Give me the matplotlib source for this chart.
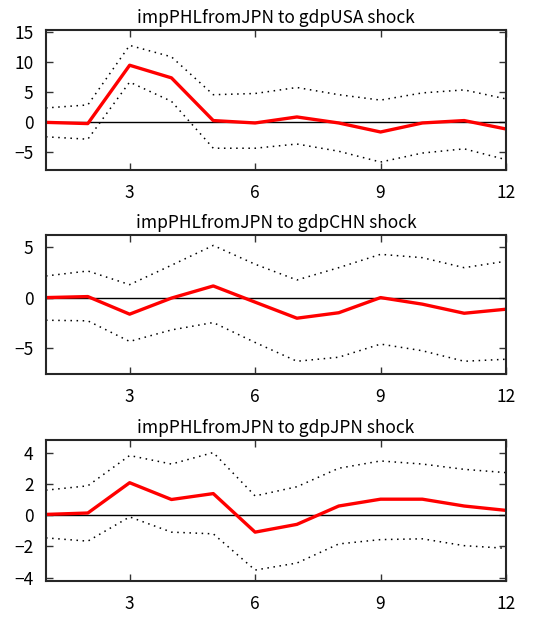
import numpy as np
import matplotlib.pyplot as plt

plt.rcParams['font.family'] = ['Noto Sans CJK JP', 'DejaVu Sans']

periods = np.arange(1, 13)

titles = ["impPHLfromJPN to gdpUSA shock",
          "impPHLfromJPN to gdpCHN shock",
          "impPHLfromJPN to gdpJPN shock"]

# impulse responses (red) with upper / lower bands (dotted)
irf_usa = [0.0, -0.2, 9.5, 7.4, 0.3, -0.1, 0.9, -0.1, -1.6, -0.1, 0.3, -1.1]
up_usa = [2.4, 2.9, 12.8, 10.9, 4.6, 4.8, 5.8, 4.6, 3.7, 4.9, 5.4, 3.9]
lo_usa = [-2.4, -2.8, 6.7, 3.5, -4.3, -4.3, -3.6, -4.8, -6.6, -5.1, -4.4, -6.2]

irf_chn = [0.0, 0.1, -1.64, -0.05, 1.15, -0.45, -2.04, -1.5, 0.0, -0.65, -1.55, -1.15]
up_chn = [2.14, 2.63, 1.28, 3.2, 5.16, 3.3, 1.74, 2.96, 4.28, 3.95, 2.96, 3.6]
lo_chn = [-2.24, -2.3, -4.34, -3.2, -2.47, -4.44, -6.3, -5.9, -4.6, -5.26, -6.3, -6.1]

irf_jpn = [0.06, 0.15, 2.1, 1.02, 1.4, -1.08, -0.58, 0.6, 1.04, 1.04, 0.6, 0.32]
up_jpn = [1.62, 1.9, 3.85, 3.3, 4.04, 1.25, 1.84, 3.03, 3.5, 3.3, 2.96, 2.75]
lo_jpn = [-1.45, -1.66, -0.1, -1.08, -1.19, -3.52, -3.07, -1.84, -1.56, -1.51, -1.95, -2.12]

panels = [(irf_usa, up_usa, lo_usa, [-5, 0, 5, 10, 15]),
          (irf_chn, up_chn, lo_chn, [-5, 0, 5]),
          (irf_jpn, up_jpn, lo_jpn, [-4, -2, 0, 2, 4])]

W, H = 543, 617
fig = plt.figure(figsize=(W / 100, H / 100), dpi=100)

# axes boxes in pixels: (top, bottom)
boxes = [(30, 170), (235, 374), (440, 581)]
left, right = 46, 506

for (irf, up, lo, yt), title, (top, bot) in zip(panels, titles, boxes):
    ax = fig.add_axes([left / W, 1 - bot / H, (right - left) / W, (bot - top) / H])
    ax.axhline(0, color='black', lw=1)
    ax.plot(periods, up, color='black', ls=(0, (1, 3)), lw=1.1)
    ax.plot(periods, lo, color='black', ls=(0, (1, 3)), lw=1.1)
    ax.plot(periods, irf, color='red', lw=2.4)
    ax.set_xlim(1, 12)
    ax.set_ylim(1.2 * min(lo), 1.2 * max(up))
    ax.set_xticks([3, 6, 9, 12])
    ax.set_yticks(yt)
    ax.tick_params(direction='in', top=True, right=True, length=5,
                   width=1, color='#333333', labelsize=12.5)
    ax.tick_params(axis='x', pad=10)
    ax.tick_params(axis='y', pad=9)
    for s in ax.spines.values():
        s.set_linewidth(1.5)
        s.set_color('#262626')
    ax.set_title(title, fontsize=12.5, pad=5)

fig.savefig('out.png', dpi=100)
